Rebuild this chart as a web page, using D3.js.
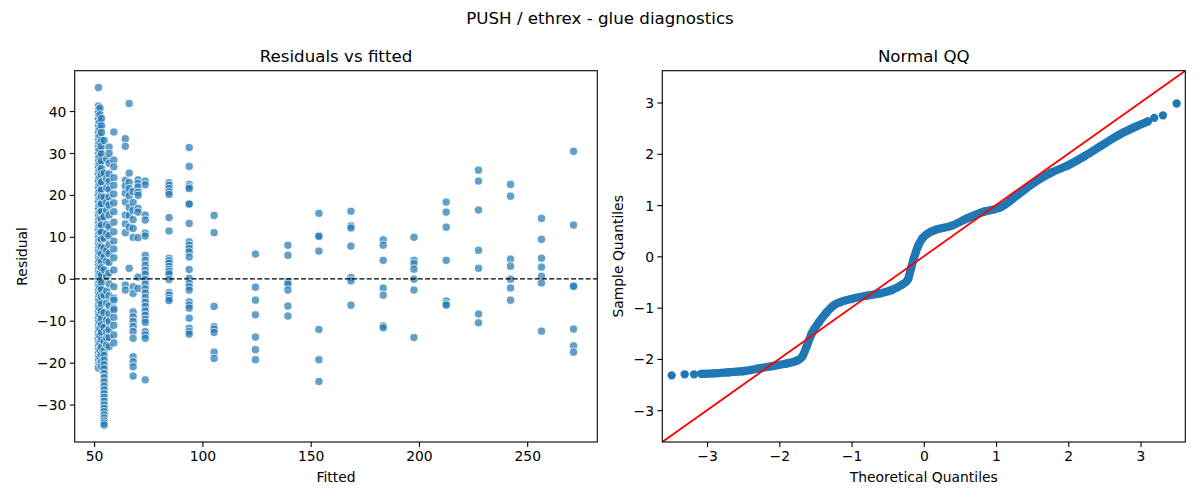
<!DOCTYPE html>
<html>
<head>
<meta charset="utf-8">
<script src="https://cdn.jsdelivr.net/npm/d3@7"></script>
<style>
  html, body { margin: 0; padding: 0; background: #fff; }
  svg { display: block; font-family: "DejaVu Sans", sans-serif; }
</style>
</head>
<body>
<svg id="chart" width="1200" height="500"></svg>
<script>
// ---------------- DATA ----------------
const suptitle = "PUSH / ethrex - glue diagnostics";
const leftTitle = "Residuals vs fitted";
const rightTitle = "Normal QQ";

// Residuals vs fitted: distinct fitted levels and the residuals observed at each
const fittedLevels = [52.0, 52.7, 53.4, 54.6, 55.8, 56.9, 59.1, 64.4, 66.2, 68.0, 70.3, 73.6, 84.6, 93.9, 105.4,
  124.5, 139.5, 153.8, 168.6, 183.5, 197.7, 212.6, 227.5, 242.3, 256.6, 271.4];
const residualGroups = [
  [45.6, 41.2, 40.3, 39.5, 38.6, 37.9, 37.0, 36.2, 35.3, 34.6, 33.8, 32.9, 32.1, 31.2, 30.5, 29.6, 28.8, 27.9,
   27.1, 26.4, 25.5, 24.7, 23.8, 23.0, 22.1, 21.4, 20.5, 19.7, 18.8, 18.1, 17.2, 16.4, 15.5, 14.7, 13.9, 13.0,
   12.2, 11.4, 10.5, 9.7, 8.9, 8.0, 7.2, 6.4, 5.5, 4.7, 3.9, 3.0, 2.2, 1.3, 0.5, -0.3, -1.2, -2.0, -2.8, -3.7,
   -4.5, -5.3, -6.2, -7.0, -7.8, -8.7, -9.5, -10.3, -11.2, -12.0, -12.9, -13.7, -14.5, -15.4, -16.2, -17.0,
   -17.9, -18.7, -19.6, -20.5, -21.3],
  [40.7, 39.1, 37.4, 35.8, 34.1, 32.5, 30.8, 29.2, 27.5, 25.9, 24.3, 22.6, 21.0, 19.3, 17.7, 16.0, 14.4, 12.7,
   11.1, 9.4, 7.8, 6.1, 4.5, 2.8, 1.2, -0.5, -2.1, -3.8, -5.4, -7.1, -8.7, -10.4, -12.0, -13.7, -15.3, -17.0,
   -18.6, -20.3],
  [38.2, 36.5, 34.9, 33.0, 31.6, 29.8, 28.1, 26.3, 24.9, 23.1, 21.2, 19.6, 17.9, 16.0, 14.3, 12.8, 11.1, 9.4,
   7.6, 5.9, 4.1, 2.6, 0.8, -0.9, -2.6, -4.3, -6.0, -7.7, -9.5, -11.0, -12.8, -14.6, -16.3, -18.0, -19.8, -21.0],
  [33.0, 25.2, 19.4, 14.8, 9.7, 7.3, 5.2, 2.1, -3.9, -8.1, -11.6, -14.9, -17.2, -18.3, -19.4, -20.5, -21.5,
   -22.6, -23.6, -24.6, -25.6, -26.5, -27.4, -28.3, -29.2, -30.1, -30.9, -31.7, -32.5, -33.2, -33.9, -34.4, -34.9],
  [28.6, 23.9, 21.7, 18.2, 16.4, 12.9, 10.8, 6.7, 4.2, 0.6, -2.9, -5.8, -9.8, -12.7, -14.1, -15.8],
  [31.4, 29.9, 27.5, 25.0, 23.2, 21.3, 19.5, 17.6, 15.2, 12.4, 10.3, 8.2, 6.0, 3.9, 1.4, -1.2, -4.1, -6.5,
   -8.3, -10.2, -12.1, -14.0, -16.2],
  [35.0, 28.3, 26.7, 24.1, 22.3, 20.2, 18.1, 16.0, 13.5, 11.2, 9.0, 7.1, 5.0, 2.1, -1.9, -4.6, -5.1, -7.0,
   -7.4, -9.2, -11.1, -13.4, -15.3],
  [33.4, 31.6, 23.5, 22.1, 20.4, 18.3, 15.2, 13.1, 11.0, -1.5, -2.7],
  [41.8, 25.2, 23.0, 21.5, 19.8, 17.0, 15.1, 12.3, 2.5],
  [20.8, 18.2, 16.3, 14.1, 12.0, 9.9, -1.9, -3.5, -7.9, -9.1, -10.2, -11.4, -12.6, -14.2, -18.6, -19.8, -21.0, -23.2],
  [23.6, 22.7, 21.9, 20.6, 19.9, 16.8, 15.9, 9.8, 0.4, -2.3],
  [23.3, 22.4, 15.2, 14.0, 10.9, 10.2, 5.6, 4.4, 3.2, 2.0, 1.1, -0.2, -1.3, -2.4, -3.4, -4.5, -5.6, -6.6,
   -7.7, -8.7, -9.7, -10.4, -12.6, -13.4, -14.2, -24.1],
  [22.9, 22.3, 21.5, 20.7, 20.1, 14.6, 11.4, 4.9, 4.3, 3.7, 2.9, 2.2, 1.7, 1.1, -0.2, -3.3, -3.9, -4.7, -5.2],
  [31.3, 26.8, 22.5, 21.9, 21.5, 17.9, 17.8, 13.2, 8.8, 8.0, 7.2, 6.4, 5.2, 2.2, 0.1, -1.1, -1.9, -2.7,
   -5.5, -6.3, -7.0, -9.4, -11.8, -12.6, -13.2],
  [15.1, 11.0, -6.6, -11.4, -12.0, -12.8, -17.5, -19.0],
  [5.9, -2.0, -5.1, -8.6, -13.9, -16.9, -19.3],
  [8.0, 5.6, -0.7, -1.3, -2.7, -6.5, -8.9],
  [15.6, 10.3, 10.1, 6.6, -12.1, -19.3, -24.5],
  [16.1, 12.6, 12.1, 7.8, 0.3, -0.5, -6.3],
  [9.3, 8.0, 4.4, -2.2, -3.9, -11.2, -11.7],
  [9.9, 4.4, 3.6, 2.3, -0.1, -2.7, -14.0],
  [18.3, 15.9, 12.3, 4.4, -5.3, -6.0, -6.3],
  [25.9, 23.3, 16.4, 6.8, 2.5, -8.4, -10.5],
  [22.5, 19.7, 4.7, 3.0, -0.1, -2.2, -5.1],
  [14.4, 9.4, 4.9, 2.8, 0.6, -1.0, -12.5],
  [30.4, 12.8, -1.7, -1.8, -12.0, -16.0, -17.5]
];
const leftXTicks = [50, 100, 150, 200, 250];
const leftYTicks = [-30, -20, -10, 0, 10, 20, 30, 40];

// Normal QQ: theoretical quantile vs sample quantile
const qqTheoretical = [-3.49, -3.31, -3.18, -3.08, -2.90, -2.70, -2.50, -2.30, -2.10, -1.90, -1.75, -1.68,
  -1.62, -1.55, -1.45, -1.35, -1.25, -1.15, -1.00, -0.80, -0.60, -0.45, -0.30, -0.22, -0.18, -0.14, -0.08,
  -0.02, 0.05, 0.19, 0.37, 0.60, 0.83, 1.07, 1.30, 1.53, 1.76, 1.99, 2.22, 2.45, 2.69, 2.92, 3.10, 3.19, 3.31, 3.50];
const qqSample = [-2.32, -2.30, -2.30, -2.29, -2.28, -2.26, -2.24, -2.19, -2.14, -2.09, -2.03, -1.95,
  -1.75, -1.50, -1.28, -1.10, -0.96, -0.89, -0.83, -0.77, -0.72, -0.66, -0.55, -0.45, -0.25, -0.05, 0.20,
  0.35, 0.44, 0.53, 0.59, 0.74, 0.87, 0.96, 1.20, 1.44, 1.63, 1.77, 1.95, 2.15, 2.36, 2.52, 2.63, 2.70, 2.75, 2.98];
const qqLimits = [-3.62, 3.62];
const qqTicks = [-3, -2, -1, 0, 1, 2, 3];
// theoretical range over which the QQ points are packed into a continuous band
const qqDenseRange = [-3.1, 3.12];

// ---------------- DRAW ----------------
const svg = d3.select("#chart");
const blue = "#1f77b4";
const fmt = v => String(v).replace("-", "\u2212");

svg.append("rect").attr("width", 1200).attr("height", 500).attr("fill", "#fff");

svg.append("text").attr("x", 600).attr("y", 24).attr("text-anchor", "middle")
  .attr("font-size", 16.67).attr("fill", "#000").text(suptitle);

const L = { x0: 74.7, x1: 597.3, y0: 70.7, y1: 442 };
const R = { x0: 662.3, x1: 1185.3, y0: 70.7, y1: 442 };

function pad(ext) { const s = ext[1] - ext[0]; return [ext[0] - 0.05 * s, ext[1] + 0.05 * s]; }

const points = [];
fittedLevels.forEach((f, i) => residualGroups[i].forEach(r => points.push({ f, r })));

const xL = d3.scaleLinear().domain(pad(d3.extent(points, d => d.f))).range([L.x0, L.x1]);
const yL = d3.scaleLinear().domain(pad(d3.extent(points, d => d.r))).range([L.y1, L.y0]);

const xR = d3.scaleLinear().domain(qqLimits).range([R.x0, R.x1]);
const yR = d3.scaleLinear().domain(qqLimits).range([R.y1, R.y0]);

function axes(box, xs, ys, xt, yt, title, xlabel, ylabel, ylabelX) {
  const g = svg.append("g");
  const ax = g.append("g").attr("transform", `translate(0,${box.y1})`)
    .call(d3.axisBottom(xs).tickValues(xt).tickFormat(fmt).tickSize(4.9).tickPadding(3.4));
  const ay = g.append("g").attr("transform", `translate(${box.x0},0)`)
    .call(d3.axisLeft(ys).tickValues(yt).tickFormat(fmt).tickSize(4.9).tickPadding(3.4));
  [ax, ay].forEach(a => {
    a.select(".domain").remove();
    a.selectAll(".tick line").attr("stroke", "#000").attr("stroke-width", 1.1);
    a.selectAll(".tick text").attr("font-size", 13.9).attr("fill", "#000")
      .attr("font-family", "DejaVu Sans, sans-serif");
  });
  ax.selectAll(".tick text").attr("dy", "0.75em");
  ay.selectAll(".tick text").attr("dy", "0.36em");
  g.append("text").attr("x", (box.x0 + box.x1) / 2).attr("y", 62.4).attr("text-anchor", "middle")
    .attr("font-size", 16.67).attr("fill", "#000").text(title);
  g.append("text").attr("x", (box.x0 + box.x1) / 2).attr("y", 482).attr("text-anchor", "middle")
    .attr("font-size", 13.9).attr("fill", "#000").text(xlabel);
  g.append("text").attr("transform", `translate(${ylabelX},${(box.y0 + box.y1) / 2}) rotate(-90)`)
    .attr("text-anchor", "middle").attr("font-size", 13.9).attr("fill", "#000").text(ylabel);
}

function frame(box) {
  svg.append("rect").attr("x", box.x0).attr("y", box.y0)
    .attr("width", box.x1 - box.x0).attr("height", box.y1 - box.y0)
    .attr("fill", "none").attr("stroke", "#000").attr("stroke-width", 1.1);
}

// ---- left panel
svg.append("clipPath").attr("id", "clipL").append("rect")
  .attr("x", L.x0).attr("y", L.y0).attr("width", L.x1 - L.x0).attr("height", L.y1 - L.y0);
const gL = svg.append("g").attr("clip-path", "url(#clipL)");
gL.selectAll("circle").data(points).join("circle")
  .attr("cx", d => xL(d.f)).attr("cy", d => yL(d.r)).attr("r", 4.1)
  .attr("fill", blue).attr("fill-opacity", 0.7)
  .attr("stroke", "#fff").attr("stroke-width", 0.75);
gL.append("line").attr("x1", L.x0).attr("x2", L.x1).attr("y1", yL(0)).attr("y2", yL(0))
  .attr("stroke", "#000").attr("stroke-width", 1.3).attr("stroke-dasharray", "5,2.3");
axes(L, xL, yL, leftXTicks, leftYTicks, leftTitle, "Fitted", "Residual", 27);
frame(L);

// ---- right panel
const qq = qqTheoretical.map((t, i) => ({ t, s: qqSample[i] }));
svg.append("clipPath").attr("id", "clipR").append("rect")
  .attr("x", R.x0).attr("y", R.y0).attr("width", R.x1 - R.x0).attr("height", R.y1 - R.y0);
const gR = svg.append("g").attr("clip-path", "url(#clipR)");
const dense = qq.filter(d => d.t >= qqDenseRange[0] && d.t <= qqDenseRange[1]);
gR.append("path").datum(dense)
  .attr("d", d3.line().x(d => xR(d.t)).y(d => yR(d.s)).curve(d3.curveMonotoneX))
  .attr("fill", "none").attr("stroke", blue).attr("stroke-width", 8.3)
  .attr("stroke-linecap", "round").attr("stroke-linejoin", "round");
gR.selectAll("circle").data(qq).join("circle")
  .attr("cx", d => xR(d.t)).attr("cy", d => yR(d.s)).attr("r", 4.15).attr("fill", blue);
gR.append("line").attr("x1", xR(qqLimits[0])).attr("y1", yR(qqLimits[0]))
  .attr("x2", xR(qqLimits[1])).attr("y2", yR(qqLimits[1]))
  .attr("stroke", "#ff0000").attr("stroke-width", 1.8);
axes(R, xR, yR, qqTicks, qqTicks, rightTitle, "Theoretical Quantiles", "Sample Quantiles", 623);
frame(R);
</script>
</body>
</html>
